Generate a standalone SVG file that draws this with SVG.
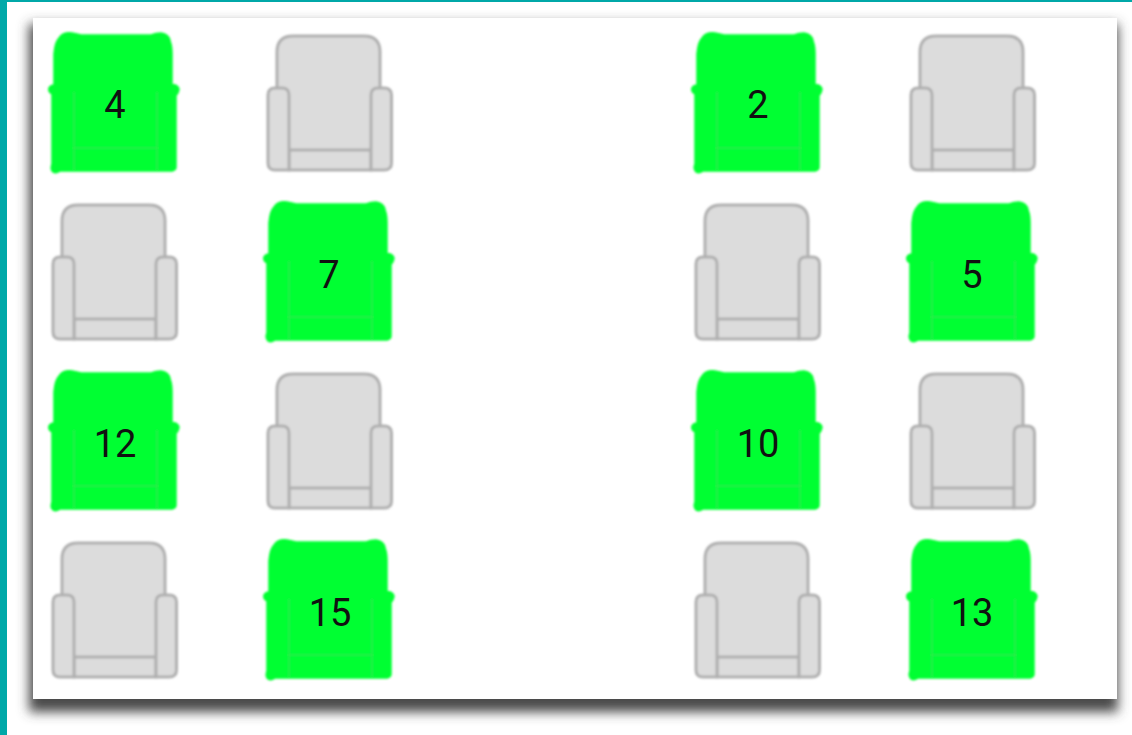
<svg xmlns="http://www.w3.org/2000/svg" width="1132" height="735" viewBox="0 0 1132 735">
<style>
.o{fill:#dcdcdc;stroke:#b0b0b0;stroke-width:3;stroke-linejoin:round}
.g{fill:#00ff30;stroke:#00ff30;stroke-width:1.5;stroke-linejoin:round}
.f{fill:none;stroke:#30e850;stroke-width:1.5}
.n{font-family:Roboto,"Liberation Sans",sans-serif;font-size:38px;fill:#111;text-anchor:middle}
</style>
<defs>
<filter id="sh" x="-5%" y="-5%" width="110%" height="112%"><feGaussianBlur stdDeviation="6"/></filter>
<filter id="soft" x="-5%" y="-5%" width="110%" height="110%"><feGaussianBlur stdDeviation="0.8"/></filter>
<symbol id="grey" width="130" height="140" overflow="visible">
<g filter="url(#soft)">
<path class="o" d="M12 58V19Q12 3 28 3H99Q115 3 115 19V58Z"/>
<rect x="24" y="40" width="82" height="96" fill="#dcdcdc"/>
<path class="o" d="M24 117H106V137H24Z"/>
<path class="o" d="M24 137H10Q3 137 3 130V62Q3 55 10 55H17Q24 55 24 62Z"/>
<path class="o" d="M106 137H119Q126.500 137 126.500 130V62Q126.500 55 119 55H113Q106 55 106 62Z"/>
</g>
</symbol>
<symbol id="green" width="130" height="140" overflow="visible">
<g filter="url(#soft)">
<path class="g" d="M3 52V20Q4 8 8 4Q12 -2 21 -1Q26 0 30 1H100Q105 -1 110 -1Q118 0 119 7Q121 12 121 20V51Q126 50 128 55Q127 60 125 61V133Q125 136 121 137L9 137Q5 140 2 138Q-1 135 1 130V60Q-3 58 -2 54Q0 51 3 51Z"/>
<path class="f" d="M23 58V136M106 58V136M23 114H106"/>
</g>
</symbol>
</defs>
<rect width="1132" height="735" fill="#fff"/>
<path d="M0 0H1132V2H7V735H0Z" fill="#00a8a8"/>
<rect x="29" y="24" width="1089" height="688" fill="#4a4a4a" filter="url(#sh)"/>
<rect x="33" y="18" width="1084" height="681" fill="#fff"/>
<g id="connectors"/>
<g id="seat-4"><use href="#green" x="51" y="34"/><text class="n" x="115" y="118">4</text></g>
<g id="seat-a"><use href="#grey" x="265" y="33"/></g>
<g id="seat-2"><use href="#green" x="694" y="34"/><text class="n" x="758" y="118">2</text></g>
<g id="seat-b"><use href="#grey" x="908" y="33"/></g>
<g id="seat-c"><use href="#grey" x="50" y="202"/></g>
<g id="seat-7"><use href="#green" x="266" y="203"/><text class="n" x="329" y="288">7</text></g>
<g id="seat-d"><use href="#grey" x="693" y="202"/></g>
<g id="seat-5"><use href="#green" x="909" y="203"/><text class="n" x="972" y="288">5</text></g>
<g id="seat-12"><use href="#green" x="51" y="372"/><text class="n" x="115" y="457">12</text></g>
<g id="seat-e"><use href="#grey" x="265" y="371"/></g>
<g id="seat-10"><use href="#green" x="694" y="372"/><text class="n" x="758" y="457">10</text></g>
<g id="seat-f"><use href="#grey" x="908" y="371"/></g>
<g id="seat-g"><use href="#grey" x="50" y="540"/></g>
<g id="seat-15"><use href="#green" x="266" y="541"/><text class="n" x="330" y="626">15</text></g>
<g id="seat-h"><use href="#grey" x="693" y="540"/></g>
<g id="seat-13"><use href="#green" x="909" y="541"/><text class="n" x="972" y="626">13</text></g>
</svg>
